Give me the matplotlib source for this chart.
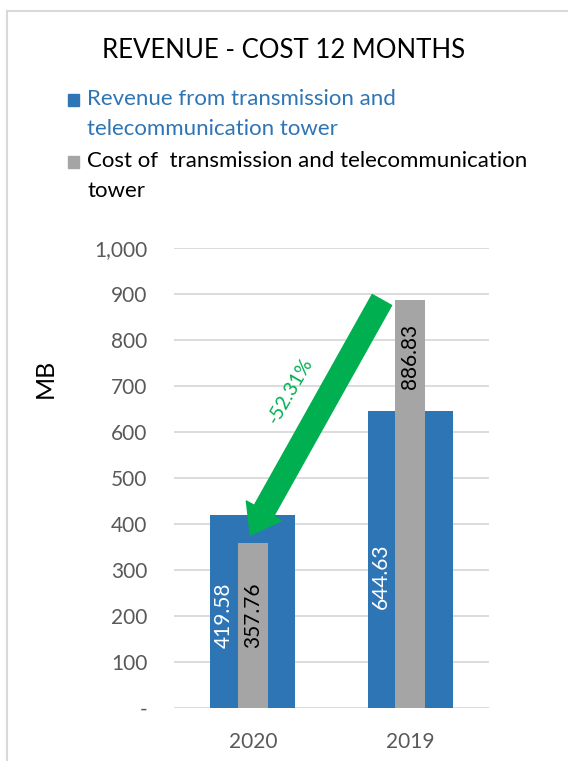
import numpy as np
import matplotlib
matplotlib.use("Agg")
import matplotlib.pyplot as plt
from matplotlib.patches import FancyArrowPatch, ArrowStyle, Rectangle
from matplotlib.lines import Line2D

plt.rcParams['font.family'] = ['Lato', 'DejaVu Sans']

# data
years = ['2020', '2019']
revenue = [419.58, 644.63]
cost = [357.76, 886.83]
series_names = ['Revenue from transmission and\ntelecommunication tower',
                'Cost of  transmission and telecommunication\ntower']
change_label = '-52.31%'
# label centres (Excel puts them oddly)
rev_label_y = [202, 287]
cost_label_y = [202, 765]

blue = '#2E75B6'
grey = '#A5A5A5'
green = '#00B050'
tick_col = '#595959'

W, H = 568, 761
fig = plt.figure(figsize=(W / 100, H / 100), dpi=100)

def fx(px):
    return px / W

def fy(py):
    return 1 - py / H

ax_l, ax_r, ax_t, ax_b = 174, 489, 248, 708
ax = fig.add_axes([fx(ax_l), fy(ax_b), fx(ax_r) - fx(ax_l), fy(ax_t) - fy(ax_b)])

x = np.arange(len(years))
ax.bar(x, revenue, width=0.54, color=blue, zorder=2)
ax.bar(x, cost, width=0.19, color=grey, zorder=3)

for i in range(len(years)):
    ax.text(x[i] - 0.185, rev_label_y[i], f'{revenue[i]:.2f}', rotation=90,
            ha='center', va='center', color='white', fontsize=15, zorder=4)
    ax.text(x[i], cost_label_y[i], f'{cost[i]:.2f}', rotation=90,
            ha='center', va='center', color='black', fontsize=15, zorder=4)

ax.set_xlim(-0.5, 1.5)
ax.set_ylim(0, 1000)
yt = np.arange(0, 1001, 100)
ax.set_yticks(yt)
ax.set_yticklabels(['-' if v == 0 else f'{v:,}' for v in yt])
ax.set_xticks(x)
ax.set_xticklabels(years)
ax.tick_params(axis='y', length=0, pad=19, labelsize=15, labelcolor=tick_col)
ax.tick_params(axis='x', length=0, pad=17, labelsize=15, labelcolor=tick_col)
ax.grid(axis='y', color='#D9D9D9', lw=1.3, zorder=0)
ax.set_axisbelow(True)
for s in ax.spines.values():
    s.set_visible(False)

# axis title placed in figure pixels
fig.text(fx(45), fy(378), 'MB', rotation=90, ha='center', va='center',
         fontsize=18, color='black')

# the fat green arrow from 2019 cost to 2020 cost
arr = FancyArrowPatch((0.82, 887), (-0.015, 376),
                      arrowstyle=ArrowStyle.Simple(head_length=20, head_width=29, tail_width=16),
                      mutation_scale=1, shrinkA=0, shrinkB=0,
                      color=green, zorder=5)
ax.add_patch(arr)
ax.text(0.237, 689, change_label, rotation=60, color=green, fontsize=14,
        ha='center', va='center', zorder=5)

# title
fig.text(0.5, fy(50), 'REVENUE - COST 12 MONTHS', ha='center', va='center',
         fontsize=18.5, color='black')

# legend drawn by hand
leg_cols = [blue, grey]
leg_text_cols = [blue, 'black']
leg_y = [100, 162]
for name, c, tc, ly in zip(series_names, leg_cols, leg_text_cols, leg_y):
    fig.patches.append(Rectangle((fx(68), fy(ly + 6)), fx(11), fy(ly - 6) - fy(ly + 6),
                                 transform=fig.transFigure, color=c))
    fig.text(fx(87), fy(ly - 11), name, ha='left', va='top', fontsize=16,
             color=tc, linespacing=1.6)

# chart-area frame, only top and left show
fig.add_artist(Line2D([fx(7), fx(7)], [fy(11), 0], color='#D9D9D9', lw=1.5,
                      transform=fig.transFigure))
fig.add_artist(Line2D([fx(7), 1], [fy(11), fy(11)], color='#D9D9D9', lw=1.5,
                      transform=fig.transFigure))

fig.savefig('out.png', dpi=100)
